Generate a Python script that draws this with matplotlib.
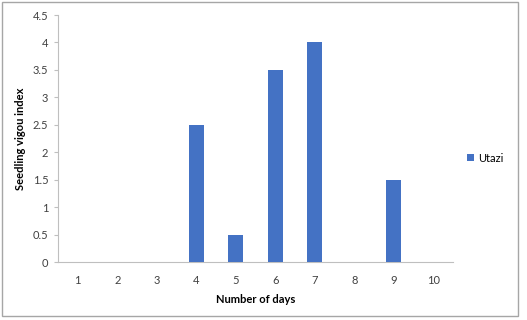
import numpy as np
import matplotlib
matplotlib.use("Agg")
import matplotlib.pyplot as plt
from matplotlib.patches import Rectangle

days = ["1", "2", "3", "4", "5", "6", "7", "8", "9", "10"]
utazi = [0, 0, 0, 2.5, 0.5, 3.5, 4, 0, 1.5, 0]
y_ticks = [0, 0.5, 1, 1.5, 2, 2.5, 3, 3.5, 4, 4.5]
y_labels = ["0", "0.5", "1", "1.5", "2", "2.5", "3", "3.5", "4", "4.5"]

plt.rcParams["font.family"] = ["Lato", "DejaVu Sans"]

fig = plt.figure(figsize=(5.27, 3.20), dpi=100)
ax = fig.add_axes([0.110, 0.181, 0.750, 0.772])

x = np.arange(len(days))
ax.bar(x, utazi, width=0.38, color="#4472C4", label="Utazi", zorder=3)

ax.set_xlim(-0.5, len(days) - 0.5)
ax.set_ylim(0, 4.5)
ax.set_xticks(x)
ax.set_xticklabels(days)
ax.set_yticks(y_ticks)
ax.set_yticklabels(y_labels)
ax.tick_params(axis="x", length=0, pad=9, labelsize=8, colors="#404040")
ax.tick_params(axis="y", length=3, width=0.8, pad=4, labelsize=8,
               colors="#404040", color="#BFBFBF")

for side in ["top", "right"]:
    ax.spines[side].set_visible(False)
for side in ["left", "bottom"]:
    ax.spines[side].set_color("#BFBFBF")
    ax.spines[side].set_linewidth(0.8)

ax.set_xlabel("Number of days", fontsize=8, fontweight="bold", labelpad=6)
ax.set_ylabel("Seedling vigou index", fontsize=8, fontweight="bold", labelpad=5)

ax.legend(loc="center left", bbox_to_anchor=(1.01, 0.42), frameon=False,
          fontsize=8, handlelength=0.6, handleheight=0.6, handletextpad=0.4)

# chart area border
fig.patches.append(Rectangle((0.003, 0.012), 0.980, 0.982, transform=fig.transFigure,
                             fill=False, edgecolor="#A6A6A6", linewidth=1.0))

fig.savefig("out.png", dpi=100)
